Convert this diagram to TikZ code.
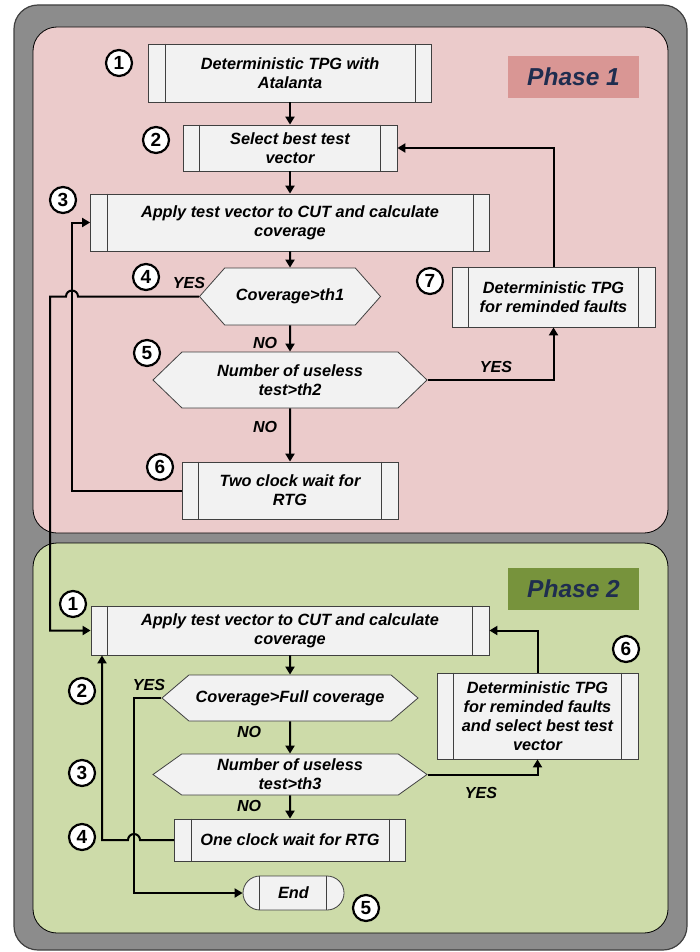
\documentclass[tikz,border=0pt]{standalone}
\usepackage{fontspec}
\usetikzlibrary{arrows.meta}
\usetikzlibrary{shapes.symbols}
\usetikzlibrary{shapes.misc}
\newfontfamily\flowfont{Liberation Sans}
\definecolor{panelgray}{HTML}{8C8C8C}
\definecolor{rimgray}{HTML}{404040}
\definecolor{pinkpanel}{HTML}{EBCBCB}
\definecolor{greenpanel}{HTML}{CDDBA9}
\definecolor{boxfill}{HTML}{F2F2F2}
\definecolor{phaseone}{HTML}{D99694}
\definecolor{phasetwo}{HTML}{77933C}
\definecolor{phaseink}{HTML}{1F2D4F}

\begin{document}
\begin{tikzpicture}
	[x=1pt,y=-1pt,
	procbox/.style={draw=rimgray, fill=boxfill, line width=0.8pt, align=center, inner sep=0pt, font=\flowfont\bfseries\itshape\fontsize{16.3}{19}\selectfont},
	hexbox/.style={procbox, shape=signal, signal from=nowhere, signal to=west and east, signal pointer angle=#1},
	numcirc/.style={circle, draw, fill=white, line width=2.2pt, minimum size=26pt, inner sep=0pt, font=\flowfont\bfseries\fontsize{19}{19}\selectfont},
	ans/.style={font=\flowfont\bfseries\itshape\fontsize{16}{16}\selectfont},
	flow/.style={line width=2pt, -{Triangle[length=8pt,width=9pt]}},
	phasetag/.style={minimum width=131pt, minimum height=42pt, inner sep=0pt, text=phaseink, font=\flowfont\bfseries\itshape\fontsize{24.5}{24.5}\selectfont}]

	\useasboundingbox (0,0) rectangle (699,952);

	%Panels
	\draw[fill=panelgray, draw=rimgray, line width=1.2pt, rounded corners=24pt] (14,5) rectangle (687,950);
	\draw[fill=pinkpanel, draw=black, line width=0.8pt, rounded corners=24pt] (33,27) rectangle (668,533);
	\draw[fill=greenpanel, draw=black, line width=0.8pt, rounded corners=24pt] (33,543) rectangle (668,933);
	\node[phasetag, fill=phaseone] (tag1) at (573.5,77) {Phase 1};
	\node[phasetag, fill=phasetwo] (tag2) at (573.5,589) {Phase 2};

	%Phase 1
	\node[procbox, minimum width=283pt, minimum height=58pt] (atal) at (290,73) {Deterministic TPG with\\Atalanta};
	\node[procbox, minimum width=214pt, minimum height=46pt] (best) at (290,148) {Select best test\\vector};
	\node[procbox, minimum width=399pt, minimum height=57pt] (apply) at (290,222.5) {Apply test vector to CUT and calculate\\coverage};
	\node[hexbox=97, minimum width=181pt, minimum height=57pt] (cov) at (290,296.5) {Coverage>th1};
	\node[hexbox=88, minimum width=274pt, minimum height=56pt] (useless) at (290,380) {Number of useless\\test>th2};
	\node[procbox, minimum width=216pt, minimum height=57pt] (wait) at (290,490.5) {Two clock wait for\\RTG};
	\node[procbox, minimum width=203pt, minimum height=60pt] (dtpg) at (553.5,297) {Deterministic TPG\\for reminded faults};

	%Phase 2
	\node[procbox, minimum width=398pt, minimum height=49pt] (apply2) at (290,630.5) {Apply test vector to CUT and calculate\\coverage};
	\node[hexbox=81, minimum width=256pt, minimum height=46pt] (full) at (290,698) {Coverage>Full coverage};
	\node[hexbox=71, minimum width=274pt, minimum height=41pt] (useless2) at (290,774.5) {Number of useless\\test>th3};
	\node[procbox, minimum width=231pt, minimum height=42pt] (wait2) at (290,840) {One clock wait for RTG};
	\node[procbox, shape=rounded rectangle, minimum width=101pt, minimum height=34pt] (finish) at (293.5,893) {End};
	\node[procbox, minimum width=201pt, minimum height=86pt] (dtpg2) at (537.5,716) {Deterministic TPG\\for reminded faults\\and select best test\\vector};

	\foreach \b in {atal,best,apply,wait,dtpg,apply2,wait2,dtpg2}
		\draw[rimgray, line width=0.8pt] ([xshift=17pt]\b.north west) -- ([xshift=17pt]\b.south west)
			([xshift=-17pt]\b.north east) -- ([xshift=-17pt]\b.south east);
	\draw[rimgray, line width=0.8pt] ([xshift=-34pt]finish.north) -- ([xshift=-34pt]finish.south)
		([xshift=33pt]finish.north) -- ([xshift=33pt]finish.south);

	%Flow phase 1
	\draw[flow] (atal) -- (best);
	\draw[flow] (best) -- (apply);
	\draw[flow] (apply) -- (cov);
	\draw[flow] (cov) -- (useless);
	\draw[flow] (useless) -- (wait);
	\draw[flow] (useless.east) -| (dtpg.south);
	\draw[flow] (dtpg.north) |- (best.east);
	\coordinate (back1) at (72,490.5);
	\draw[flow] (wait.west) -- (back1) |- (apply.west);
	\coordinate (hop1) at (78,296.5);
	\coordinate (drop1) at (50,296.5);
	\draw[flow] (cov.west) -- (hop1) arc[start angle=0, end angle=180, radius=6pt] -- (drop1) |- (apply2.west);

	%Flow phase 2
	\draw[flow] (apply2) -- (full);
	\draw[flow] (full) -- (useless2);
	\draw[flow] (useless2) -- (wait2);
	\draw[flow] (useless2.east) -| (dtpg2.south);
	\draw[flow] (dtpg2.north) |- (apply2.east);
	\coordinate (bend2) at (134,698);
	\draw[flow] (full.west) -- (bend2) |- (finish.west);
	\coordinate (hop2) at (140,840);
	\coordinate (back2) at (102,840);
	\draw[flow] (wait2.west) -- (hop2) arc[start angle=0, end angle=180, radius=6pt] -- (back2) -- (back2 |- apply2.south);

	%Answers
	\node[ans] (yes1) at (189,283) {YES};
	\node[ans] (no1) at (265,343) {NO};
	\node[ans] (yes2) at (496,367) {YES};
	\node[ans] (no2) at (265,427) {NO};
	\node[ans] (yes3) at (149,685) {YES};
	\node[ans] (no3) at (249,732) {NO};
	\node[ans] (yes4) at (481,793) {YES};
	\node[ans] (no4) at (249,806) {NO};

	%Step numbers
	\foreach \k/\cx/\cy in {1/119/63, 2/156/140, 3/63/200, 4/146/277, 5/147/353, 6/160/467, 7/430/281}
		\node[numcirc] (one\k) at (\cx,\cy) {\k};
	\foreach \k/\cx/\cy in {1/73/604, 2/82/691, 3/82/773, 4/82/837, 5/366/908, 6/626/649}
		\node[numcirc] (two\k) at (\cx,\cy) {\k};
\end{tikzpicture}
\end{document}
